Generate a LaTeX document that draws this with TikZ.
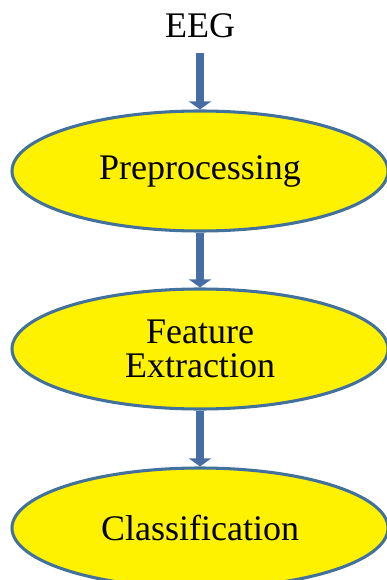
\documentclass[tikz,border=0pt]{standalone}
\usepackage{fontspec}
\setmainfont{Liberation Serif}
\usetikzlibrary{shapes.geometric,arrows.meta}
\definecolor{flowblue}{RGB}{70,110,165}
\definecolor{rimblue}{RGB}{65,113,156}
\begin{document}
\begin{tikzpicture}[x=0.75pt,y=-0.75pt,
	stage/.style={draw=rimblue, ellipse, fill=yellow, line width=2.3pt, minimum width=282pt, minimum height=90pt, inner sep=0pt, align=center, font=\fontsize{27}{25}\selectfont},
	flow/.style={draw=flowblue, line width=6pt, -{Triangle[width=16.5pt,length=6pt]}}]
		\useasboundingbox (0,0) rectangle (386,580);

		\node[font=\fontsize{27}{27}\selectfont] (eeg) at (200,26) {EEG};

		\node[stage] (pre) at (200,171) {Preprocessing};
		\node[stage] (feat) at (200,349) {Feature\\Extraction};
		\node[stage] (cls) at (200,528) {Classification};

		\draw[flow, shorten <=8pt] (eeg.south) -- (pre.north);
		\draw[flow] (pre.south) -- (feat.north);
		\draw[flow] (feat.south) -- (cls.north);

	\end{tikzpicture}
\end{document}
